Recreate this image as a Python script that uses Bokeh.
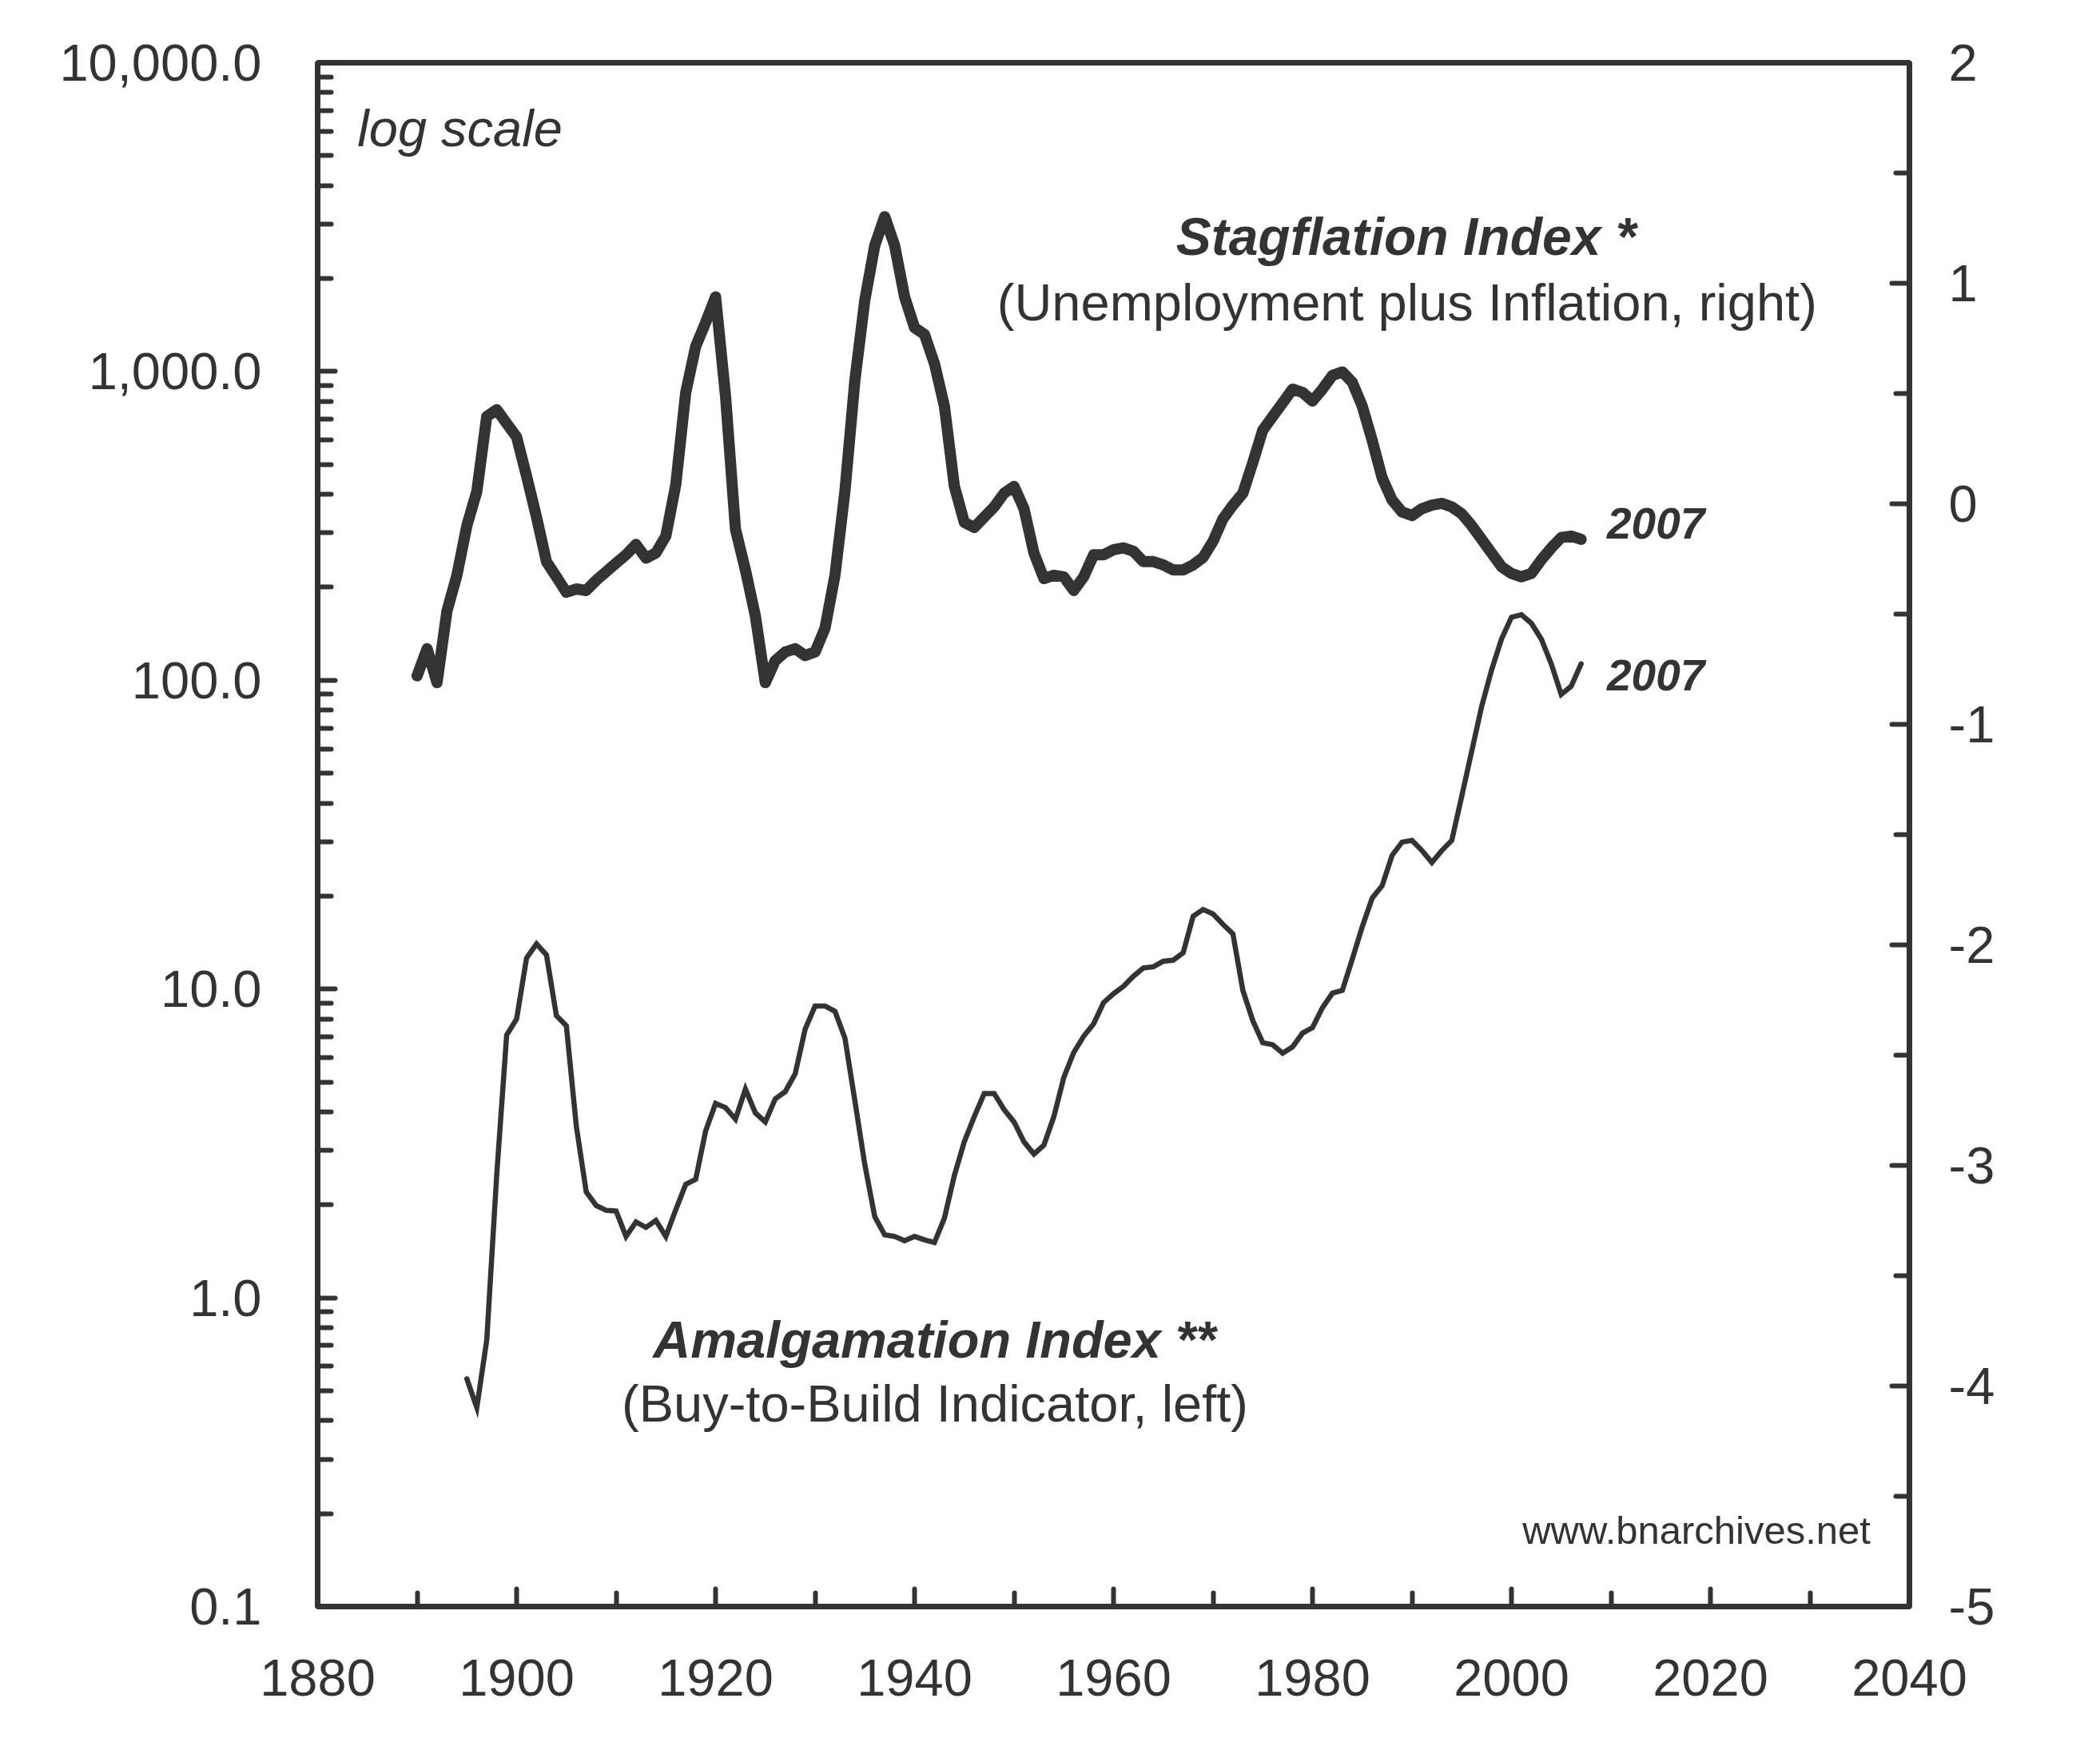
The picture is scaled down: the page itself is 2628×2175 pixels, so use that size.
from bokeh.plotting import figure
from bokeh.models import Range1d, LinearAxis, FixedTicker, Label, LinearScale
from bokeh.embed import file_html
from bokeh.resources import INLINE

# ---------------- data ----------------
stag_years = list(range(1890, 2008))
stag_values = [
    -0.780, -0.657, -0.811, -0.486, -0.324, -0.099, 0.056, 0.396, 0.427, 0.365,   # 1890-1899
    0.303, 0.126, -0.060, -0.262, -0.331, -0.401, -0.386, -0.393, -0.347, -0.308,  # 1900-1909
    -0.269, -0.231, -0.184, -0.246, -0.223, -0.146, 0.087, 0.505, 0.714, 0.822,    # 1910-1919
    0.938, 0.489, -0.115, -0.300, -0.509, -0.811, -0.711, -0.672, -0.657, -0.688,  # 1920-1929
    -0.672, -0.564, -0.324, 0.056, 0.559, 0.923, 1.171, 1.302, 1.171, 0.938,       # 1930-1939
    0.799, 0.768, 0.636, 0.443, 0.080, -0.084, -0.107, -0.060, -0.014, 0.048,      # 1940-1949
    0.079, -0.022, -0.223, -0.339, -0.324, -0.331, -0.393, -0.331, -0.231, -0.231, # 1950-1959
    -0.208, -0.200, -0.215, -0.262, -0.262, -0.277, -0.300, -0.300, -0.277, -0.243,# 1960-1969
    -0.170, -0.068, -0.006, 0.048, 0.187, 0.334, 0.396, 0.458, 0.520, 0.505,       # 1970-1979
    0.466, 0.520, 0.582, 0.598, 0.551, 0.443, 0.288, 0.118, 0.017, -0.037,         # 1980-1989
    -0.053, -0.022, -0.006, 0.002, -0.014, -0.045, -0.099, -0.161, -0.223, -0.285, # 1990-1999
    -0.316, -0.331, -0.316, -0.254, -0.200, -0.153, -0.146, -0.161,                # 2000-2007
]

amal_years = list(range(1895, 2008))
amal_values = [
    0.546, 0.441, 0.73, 2.5, 7.1,                                   # 1895-1899
    8.0, 12.6, 14.0, 12.9, 8.2, 7.6, 3.6, 2.2, 1.99, 1.92,          # 1900-1909
    1.91, 1.58, 1.76, 1.69, 1.78, 1.58, 1.93, 2.33, 2.42, 3.47,     # 1910-1919
    4.26, 4.13, 3.79, 4.74, 3.97, 3.71, 4.41, 4.65, 5.31, 7.41,     # 1920-1929
    8.81, 8.81, 8.47, 6.94, 4.35, 2.70, 1.83, 1.60, 1.58, 1.53,     # 1930-1939
    1.58, 1.54, 1.51, 1.81, 2.49, 3.20, 3.86, 4.59, 4.59, 4.07,     # 1940-1949
    3.71, 3.20, 2.92, 3.12, 3.86, 5.17, 6.23, 7.03, 7.71, 9.04,     # 1950-1959
    9.66, 10.2, 11.0, 11.7, 11.8, 12.3, 12.4, 13.1, 17.2, 18.1,     # 1960-1969
    17.5, 16.2, 15.1, 9.9, 7.9, 6.7, 6.6, 6.2, 6.5, 7.2,            # 1970-1979
    7.5, 8.7, 9.7, 9.9, 12.5, 15.9, 19.7, 21.6, 27.1, 29.9,         # 1980-1989
    30.3, 28.1, 25.7, 28.1, 30.3, 42.1, 58.8, 82.2, 108, 136,       # 1990-1999
    160, 163, 153, 136, 113, 90, 95.6, 113,                         # 2000-2007
]

x_ticks = [1880, 1900, 1920, 1940, 1960, 1980, 2000, 2020, 2040]
x_minor_ticks = [1890, 1910, 1930, 1950, 1970, 1990, 2010, 2030]
left_ticks = [0.1, 1, 10, 100, 1000, 10000]
left_tick_labels = ["0.1", "1.0", "10.0", "100.0", "1,000.0", "10,000.0"]
right_ticks = [-5, -4, -3, -2, -1, 0, 1, 2]
right_tick_labels = ["-5", "-4", "-3", "-2", "-1", "0", "1", "2"]
right_minor_ticks = [-4.5, -3.5, -2.5, -1.5, -0.5, 0.5, 1.5]

# ---------------- style ----------------
INK = "#333333"
FONT = "Liberation Sans"
TICK_FS = "65px"

left_minor = [m * 10.0 ** e for e in range(-1, 4) for m in range(2, 10)]

p = figure(width=2628, height=2175, output_backend="svg", toolbar_location=None,
           y_axis_type="log",
           x_range=Range1d(1880, 2040), y_range=Range1d(0.1, 10000),
           min_border_left=397, min_border_right=239,
           min_border_top=78, min_border_bottom=165,
           background_fill_color="white", border_fill_color="white")
p.extra_y_ranges = {"right": Range1d(-5, 2)}
p.extra_y_scales = {"right": LinearScale()}
p.xgrid.visible = False
p.ygrid.visible = False
p.outline_line_color = INK
p.outline_line_width = 7

right_axis = LinearAxis(y_range_name="right")
p.add_layout(right_axis, "right")

xa = p.xaxis[0]
ya = p.yaxis[0]

xa.ticker = FixedTicker(ticks=x_ticks, minor_ticks=x_minor_ticks)
ya.ticker = FixedTicker(ticks=left_ticks, minor_ticks=left_minor)
ya.major_label_overrides = {t: s for t, s in zip(left_ticks, left_tick_labels)}
right_axis.ticker = FixedTicker(ticks=right_ticks, minor_ticks=right_minor_ticks)
right_axis.major_label_overrides = {t: s for t, s in zip(right_ticks, right_tick_labels)}

for ax in (xa, ya, right_axis):
    ax.axis_line_color = INK
    ax.axis_line_width = 7
    ax.major_tick_line_color = INK
    ax.major_tick_line_width = 6
    ax.major_tick_line_cap = "round"
    ax.minor_tick_line_color = INK
    ax.minor_tick_line_width = 6
    ax.minor_tick_line_cap = "round"
    ax.major_tick_in = 22
    ax.major_tick_out = 0
    ax.minor_tick_in = 17
    ax.minor_tick_out = 0
    ax.major_label_text_font = FONT
    ax.major_label_text_font_size = TICK_FS
    ax.major_label_text_color = INK

xa.major_label_standoff = 66
ya.major_label_standoff = 70
right_axis.major_label_standoff = 49

# ---------------- series ----------------
p.line(stag_years, stag_values, y_range_name="right", line_color=INK,
       line_width=14, line_join="round", line_cap="round")
p.line(amal_years, amal_values, line_color=INK, line_width=6.5,
       line_join="miter", line_cap="round")

# ---------------- annotations ----------------
def add_label(x, y, text, size, style="normal", align="left"):
    p.add_layout(Label(x=x, y=y, y_range_name="right", text=text,
                       text_font=FONT, text_font_size=size, text_font_style=style,
                       text_color=INK, text_align=align, text_baseline="alphabetic"))

add_label(1884.0, 1.702, "log scale", "65px", "italic")
add_label(1989.4, 1.213, "Stagflation Index *", "66px", "bold italic", "center")
add_label(1989.5, 0.913, "(Unemployment plus Inflation, right)", "65px", "normal", "center")
add_label(2009.6, -0.087, "2007", "55px", "bold italic")
add_label(2009.6, -0.776, "2007", "55px", "bold italic")
add_label(1942.0, -3.790, "Amalgamation Index **", "65px", "bold italic", "center")
add_label(1942.05, -4.080, "(Buy-to-Build Indicator, left)", "65px", "normal", "center")
add_label(2036.1, -4.655, "www.bnarchives.net", "49px", "normal", "right")

open("out.html", "w").write(file_html(p, INLINE))
